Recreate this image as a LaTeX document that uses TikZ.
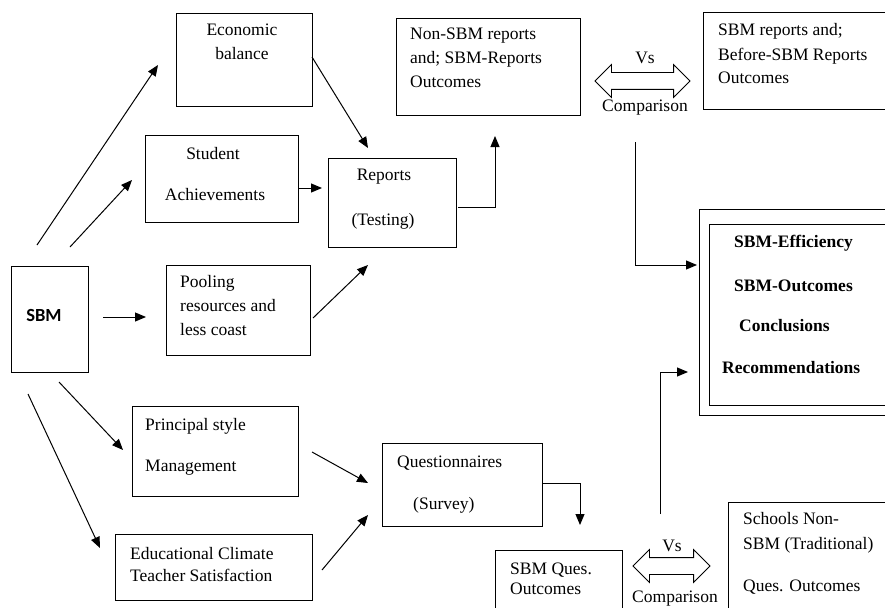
\documentclass[tikz,border=0pt]{standalone}
\usepackage{fontspec}
\setmainfont{Liberation Serif}
\newfontfamily\sbmfont{Carlito}
\usetikzlibrary{arrows.meta,shapes.arrows}

\begin{document}
\begin{tikzpicture}[x=1pt,y=-1pt,
  box/.style={draw,line width=1pt,anchor=north west,inner sep=0pt},
  txt/.style={inner sep=0pt,font=\fontsize{17.5}{21}\selectfont,text height=12pt,text depth=4pt},
  lft/.style={txt,anchor=west},
  bld/.style={lft,font=\fontsize{17.5}{21}\selectfont\bfseries},
  arr/.style={line width=1pt,-{Triangle[length=11pt,width=9pt]}},
  cmp/.style={double arrow,draw,line width=0.8pt,minimum width=32pt,double arrow head extend=8pt,inner xsep=0pt,inner ysep=8pt}]

\path[fill=white,use as bounding box] (0,0) rectangle (885,607);
\clip (0,0) rectangle (885,607);

% boxes
\node[box,minimum width=136pt,minimum height=93pt] (eco) at (176,13) {};
\node[box,minimum width=153pt,minimum height=87pt] (stu) at (145,135) {};
\node[box,minimum width=144pt,minimum height=90pt] (pool) at (166,265) {};
\node[box,minimum width=77pt,minimum height=106pt] (sbm) at (11,266) {};
\node[box,minimum width=166pt,minimum height=90pt] (prin) at (132,406) {};
\node[box,minimum width=197pt,minimum height=66pt] (edu) at (115,534) {};
\node[box,minimum width=128pt,minimum height=89pt] (rep) at (328,158) {};
\node[box,minimum width=160pt,minimum height=83pt] (que) at (382,443) {};
\node[box,minimum width=184pt,minimum height=97pt] (nsbm) at (396,18) {};
\node[box,minimum width=200pt,minimum height=97pt] (bsbm) at (703,12) {};
\node[box,minimum width=200pt,minimum height=206pt] (outer) at (699,209) {};
\node[box,minimum width=190pt,minimum height=181pt] (inner) at (709,224) {};
\node[box,minimum width=127pt,minimum height=70pt] (sques) at (495,550) {};
\node[box,minimum width=200pt,minimum height=120pt] (trad) at (728,502) {};

% texts
\node[txt] (eco1) at (242,32) {Economic};
\node[txt] (eco2) at (242,56) {balance};
\node[txt] (stu1) at (213,155) {Student};
\node[txt] (stu2) at (215,196) {Achievements};
\node[lft] (pool1) at (180,283) {Pooling};
\node[lft] (pool2) at (180,307) {resources and};
\node[lft] (pool3) at (180,331) {less coast};
\node[txt,font=\sbmfont\fontsize{18.5}{22}\selectfont\bfseries] (sbm1) at (44,317) {SBM};
\node[lft] (prin1) at (145,426) {Principal style};
\node[lft] (prin2) at (145,467) {Management};
\node[lft] (edu1) at (130,555) {Educational Climate};
\node[lft] (edu2) at (130,577) {Teacher Satisfaction};
\node[txt] (rep1) at (384,176) {Reports};
\node[txt] (rep2) at (383,221) {(Testing)};
\node[lft] (que1) at (397,463) {Questionnaires};
\node[lft] (que2) at (413,505) {(Survey)};
\node[lft] (nsbm1) at (410,36) {Non-SBM reports};
\node[lft] (nsbm2) at (410,60) {and; SBM-Reports};
\node[lft] (nsbm3) at (410,84) {Outcomes};
\node[lft] (bsbm1) at (718,32) {SBM reports and;};
\node[lft] (bsbm2) at (718,57) {Before-SBM Reports};
\node[lft] (bsbm3) at (718,80) {Outcomes};
\node[bld] (res1) at (734,243) {SBM-Efficiency};
\node[bld] (res2) at (734,287) {SBM-Outcomes};
\node[bld] (res3) at (739,327) {Conclusions};
\node[bld] (res4) at (722,369) {Recommendations};
\node[lft] (sques1) at (510,570) {SBM Ques.};
\node[lft] (sques2) at (510,590) {Outcomes};
\node[lft] (trad1) at (743,520) {Schools Non-};
\node[lft] (trad2) at (743,545) {SBM (Traditional)};
\node[lft] (trad3) at (743,587) {Ques. Outcomes};

% comparisons
\node[cmp,minimum height=95pt] (cmp1) at (642.5,81) {};
\node[txt] (vs1) at (645,60) {Vs};
\node[txt] (com1) at (645,108) {Comparison};
\node[cmp,minimum height=77pt] (cmp2) at (671.5,566) {};
\node[txt] (vs2) at (672,547) {Vs};
\node[txt] (com2) at (675,598) {Comparison};

% connectors
\coordinate (s1) at (37,245);  \coordinate (e1) at (158,65);
\coordinate (s2) at (70,247);  \coordinate (t1) at (132,180);
\coordinate (s3) at (103,317); \coordinate (p1) at (146,317);
\coordinate (s4) at (59,382);  \coordinate (m1) at (123,450);
\coordinate (s5) at (28,394);  \coordinate (c1) at (100,548);
\coordinate (e2) at (312,57);  \coordinate (r1) at (368,148);
\coordinate (t2) at (298,188); \coordinate (r2) at (322,188);
\coordinate (p2) at (313,318); \coordinate (r3) at (368,265);
\coordinate (r4) at (458,207); \coordinate (n1) at (495,136);
\coordinate (n2) at (635,142); \coordinate (o1) at (697,265);
\coordinate (m2) at (312,452); \coordinate (q1) at (368,483);
\coordinate (c2) at (322,570); \coordinate (q2) at (368,515);
\coordinate (q3) at (542,483); \coordinate (u1) at (580,525);
\coordinate (u2) at (660,514); \coordinate (o2) at (688,372);

\draw[arr] (s1) -- (e1);
\draw[arr] (s2) -- (t1);
\draw[arr] (s3) -- (p1);
\draw[arr] (s4) -- (m1);
\draw[arr] (s5) -- (c1);
\draw[arr] (e2) -- (r1);
\draw[arr] (t2) -- (r2);
\draw[arr] (p2) -- (r3);
\draw[arr] (r4) -| (n1);
\draw[arr] (n2) |- (o1);
\draw[arr] (m2) -- (q1);
\draw[arr] (c2) -- (q2);
\draw[arr] (q3) -| (u1);
\draw[arr] (u2) |- (o2);

\end{tikzpicture}
\end{document}
